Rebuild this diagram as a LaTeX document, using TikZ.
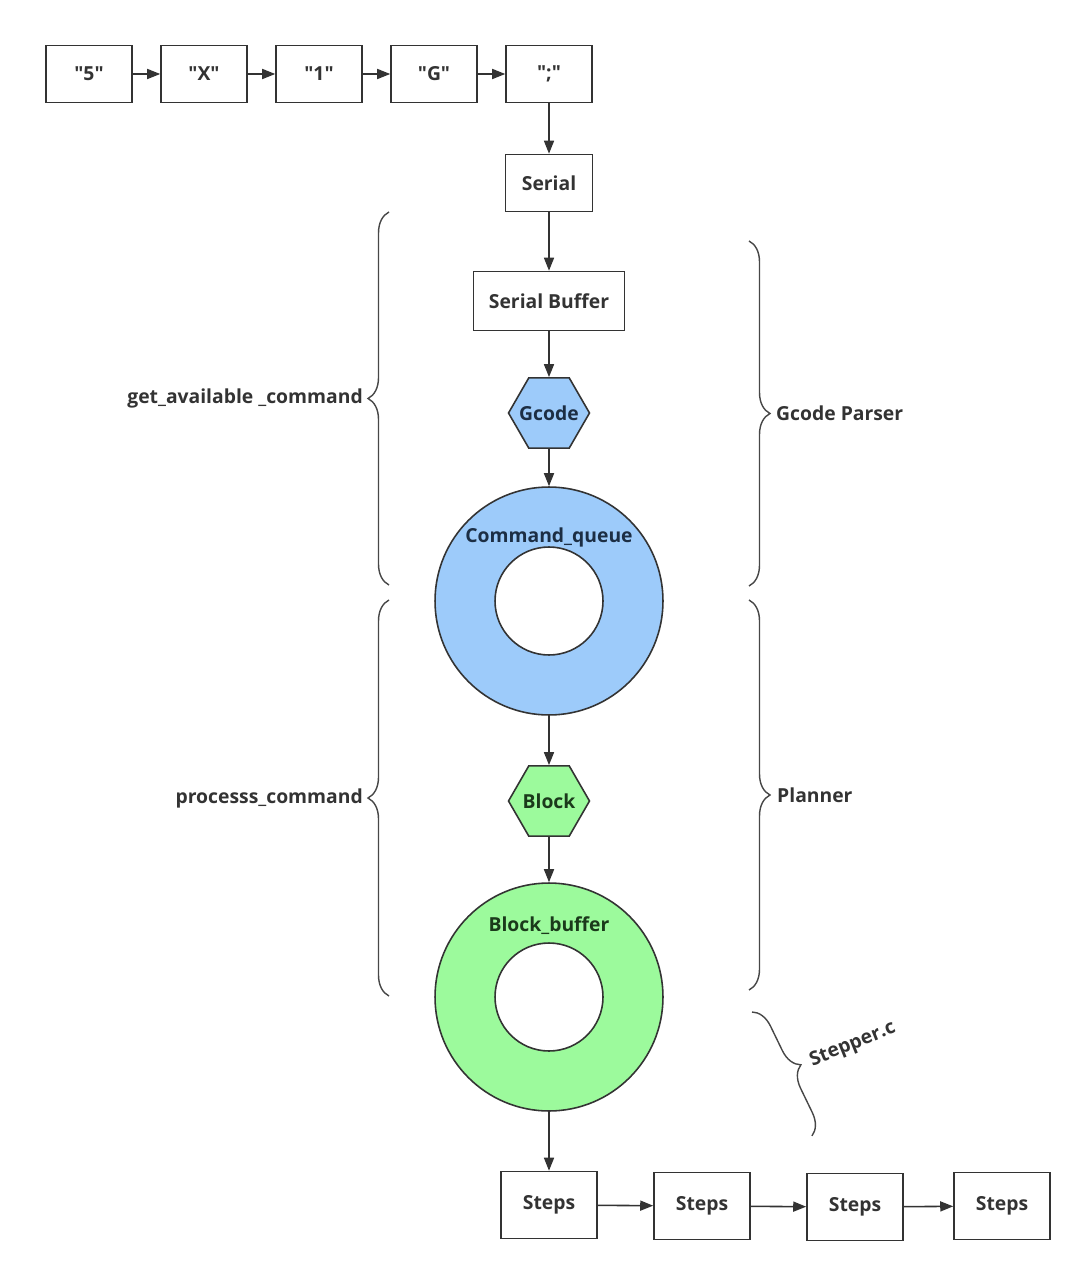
\documentclass[tikz,border=0pt]{standalone}
\usepackage{fontspec}
\setmainfont{Open Sans}[Ligatures=TeXOff]
\usetikzlibrary{arrows.meta,shapes.geometric,decorations.pathreplacing}

\definecolor{lineGray}{HTML}{333333}
\definecolor{queueBlue}{HTML}{9DCBFA}
\definecolor{bufferGreen}{HTML}{9CFA9C}
\definecolor{textBlue}{HTML}{1C2E44}
\definecolor{textGreen}{HTML}{1B3A1B}

\tikzset{
	txt/.style={font=\bfseries\fontsize{11}{14}\selectfont, text=lineGray},
	box/.style={txt, draw=lineGray, line width=0.9pt, fill=white, inner sep=0pt},
	hexa/.style={txt, regular polygon, regular polygon sides=6, draw=lineGray, line width=0.9pt, inner sep=0pt, minimum size=1.62cm},
	ring/.style={circle, draw=lineGray, line width=0.9pt, minimum size=4.56cm, inner sep=0pt},
	hole/.style={circle, draw=lineGray, line width=0.9pt, fill=white, minimum size=2.16cm, inner sep=0pt},
	arrow/.style={draw=lineGray, line width=0.9pt, -{Triangle[length=2.6mm,width=2mm]}},
	brace/.style={draw=lineGray!90, line width=0.8pt, decorate, decoration={brace, amplitude=0.42cm}},
}

\begin{document}
\begin{tikzpicture}[x=0.02cm, y=-0.02cm]
	\useasboundingbox (0,0) rectangle (1080,1270);
	% input characters
	\foreach \ch [count=\i] in {"5","X","1","G",";"}
		\node[box, minimum width=1.72cm, minimum height=1.14cm] (in\i) at ({89+115*(\i-1)},74) {\ch};
	\foreach \i [evaluate=\i as \j using int(\i+1)] in {1,...,4}
		\draw[arrow] (in\i) -- (in\j);
	\node[box, minimum width=1.74cm, minimum height=1.14cm] (serial) at (549,183) {Serial};
	\node[box, minimum width=3.02cm, minimum height=1.18cm] (sbuf) at (549,301) {Serial Buffer};
	\node[hexa, fill=queueBlue, text=textBlue] (gcode) at (549,413) {\makebox[0pt]{Gcode}};
	% command queue
	\node[ring, fill=queueBlue] (cq) at (549,601) {};
	\node[hole] (cqhole) at (549,601) {};
	\node[txt, text=textBlue] (cqlbl) at (549,537) {Command\_queue};
	\node[hexa, fill=bufferGreen, text=textGreen] (block) at (549,801) {\makebox[0pt]{Block}};
	% block buffer
	\node[ring, fill=bufferGreen] (bb) at (549,997) {};
	\node[hole] (bbhole) at (549,997) {};
	\node[txt, text=textGreen] (bblbl) at (549,926) {Block\_buffer};
	% steps
	\foreach \x/\y [count=\i] in {549/1205,702/1206,855/1207,1002/1206}
		\node[box, minimum width=1.92cm, minimum height=1.34cm] (st\i) at (\x,\y) {Steps};
	\foreach \i [evaluate=\i as \j using int(\i+1)] in {1,...,3}
		\draw[arrow] (st\i) -- (st\j);

	\draw[arrow] (in5) -- (serial);
	\draw[arrow] (serial) -- (sbuf);
	\draw[arrow] (sbuf) -- (gcode);
	\draw[arrow] (gcode) -- (cq.north);
	\draw[arrow] (cq.south) -- (block);
	\draw[arrow] (block) -- (bb.north);
	\draw[arrow] (bb.south) -- (st1);

	% braces
	\draw[brace] (389,585) -- (389,212);
	\node[txt, anchor=east] (getcmd) at (369,398) {get\_available \_command};
	\draw[brace] (389,996) -- (389,600);
	\node[txt, anchor=east] (proccmd) at (369,798) {processs\_command};
	\draw[brace] (749,241) -- (749,586);
	\node[txt, anchor=west] (parser) at (770,413) {Gcode Parser};
	\draw[brace] (749,600) -- (749,990);
	\node[txt, anchor=west] (planner) at (771,795) {Planner};
	\draw[brace] (752,1012) -- (812,1136);
	\node[txt, anchor=west, rotate=22] (stepper) at (805,1064) {Stepper.c};
\end{tikzpicture}
\end{document}
